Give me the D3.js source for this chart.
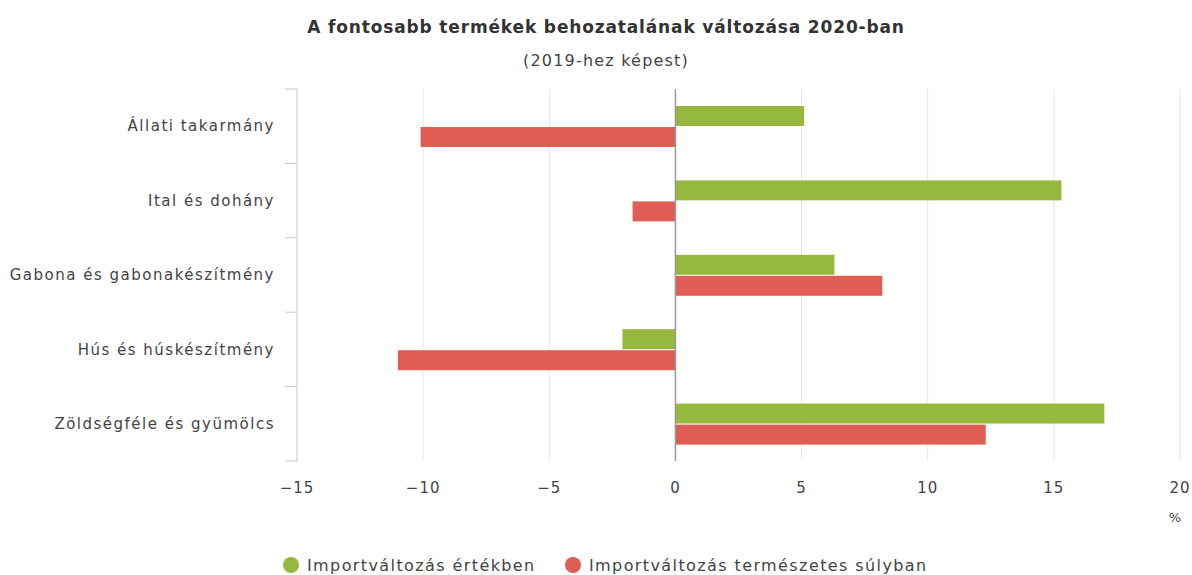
<!DOCTYPE html>
<meta charset="utf-8">
<html>
<head>
    <title>Behozatal változása 2020</title>
</head>
<style>
    *{ margin:0; padding:0;}
    body{ background:#fff;}
    svg text{ font-family:'DejaVu Sans', sans-serif;}
</style>
<script src="https://cdn.jsdelivr.net/npm/d3@7"></script>
<body>
<div id="chartContainer"></div>
<script type="text/javascript">

    var categories = ["Állati takarmány", "Ital és dohány", "Gabona és gabonakészítmény", "Hús és húskészítmény", "Zöldségféle és gyümölcs"];
    var seriesNames = ["Importváltozás értékben", "Importváltozás természetes súlyban"];
    var valueChange = [5.1, 15.3, 6.3, -2.1, 17.0];
    var weightChange = [-10.1, -1.7, 8.2, -11.0, 12.3];
    var xTicks = [-15, -10, -5, 0, 5, 10, 15, 20];
    var colors = ["#96b83e", "#e05d53"];

    var W = 1192, H = 575;
    var m = { left: 297, right: 1180, top: 89, bottom: 461 };

    var svg = d3.select("#chartContainer").append("svg")
        .attr("width", W).attr("height", H);

    var x = d3.scaleLinear().domain([-15, 20]).range([m.left, m.right]);
    var y = d3.scaleBand().domain(categories).range([m.top, m.bottom]);
    var inner = d3.scaleBand().domain(seriesNames).range([17, 58]).paddingInner(0.05);

    // grid
    svg.append("g").selectAll("line")
        .data(xTicks.filter(function (d) { return d !== -15 && d !== 0; }))
        .enter().append("line")
        .attr("x1", function (d) { return x(d); }).attr("x2", function (d) { return x(d); })
        .attr("y1", m.top).attr("y2", m.bottom)
        .attr("stroke", "#e6e6e6").attr("stroke-width", 1);

    // bars
    var rows = categories.map(function (c, i) {
        return { cat: c, vals: [valueChange[i], weightChange[i]] };
    });
    var grp = svg.append("g").selectAll("g").data(rows).enter().append("g")
        .attr("transform", function (d) { return "translate(0," + y(d.cat) + ")"; });
    grp.selectAll("rect").data(function (d) {
        return d.vals.map(function (v, j) { return { name: seriesNames[j], v: v, j: j }; });
    }).enter().append("rect")
        .attr("x", function (d) { return x(Math.min(0, d.v)); })
        .attr("width", function (d) { return Math.abs(x(d.v) - x(0)); })
        .attr("y", function (d) { return inner(d.name); })
        .attr("height", inner.bandwidth())
        .attr("fill", function (d) { return colors[d.j]; });

    // zero line
    svg.append("line")
        .attr("x1", x(0)).attr("x2", x(0)).attr("y1", m.top).attr("y2", m.bottom)
        .attr("stroke", "#999").attr("stroke-width", 1.5);

    // y axis
    var yAxis = svg.append("g").attr("transform", "translate(" + m.left + ",0)");
    yAxis.append("line").attr("x1", 0).attr("x2", 0).attr("y1", m.top).attr("y2", m.bottom)
        .attr("stroke", "#c8c8c8");
    yAxis.selectAll(".tk").data(d3.range(categories.length + 1)).enter().append("line")
        .attr("x1", -12).attr("x2", 0)
        .attr("y1", function (i) { return m.top + i * y.step(); })
        .attr("y2", function (i) { return m.top + i * y.step(); })
        .attr("stroke", "#c8c8c8");
    yAxis.selectAll("text").data(categories).enter().append("text")
        .attr("x", -22)
        .attr("y", function (d) { return y(d) + y.bandwidth() / 2; })
        .attr("dy", "0.35em")
        .attr("text-anchor", "end")
        .attr("font-size", 15).attr("letter-spacing", 1.5).attr("fill", "#444")
        .text(function (d) { return d; });

    // x tick labels
    svg.append("g").selectAll("text").data(xTicks).enter().append("text")
        .attr("x", function (d) { return x(d); })
        .attr("y", 488).attr("dy", "0.35em")
        .attr("text-anchor", "middle")
        .attr("font-size", 15).attr("letter-spacing", 1).attr("fill", "#444")
        .text(function (d) { return d < 0 ? "\u2212" + Math.abs(d) : d; });
    svg.append("text").attr("x", 1175).attr("y", 517).attr("dy", "0.35em")
        .attr("text-anchor", "middle").attr("font-size", 13).attr("fill", "#444").text("%");

    // titles
    svg.append("text").attr("x", 606).attr("y", 27).attr("dy", "0.35em")
        .attr("text-anchor", "middle").attr("font-size", 17).attr("font-weight", "bold")
        .attr("letter-spacing", 0.85)
        .attr("fill", "#333").text("A fontosabb termékek behozatalának változása 2020-ban");
    svg.append("text").attr("x", 606).attr("y", 60).attr("dy", "0.35em")
        .attr("text-anchor", "middle").attr("font-size", 16).attr("letter-spacing", 1.2)
        .attr("fill", "#444").text("(2019-hez képest)");

    // legend
    var legX = [291, 573];
    var leg = svg.append("g").selectAll("g").data(seriesNames).enter().append("g")
        .attr("transform", function (d, i) { return "translate(" + legX[i] + ",565)"; });
    leg.append("circle").attr("r", 8).attr("fill", function (d, i) { return colors[i]; });
    leg.append("text").attr("x", 16).attr("dy", "0.35em")
        .attr("font-size", 16).attr("letter-spacing", 1.4).attr("fill", "#444")
        .text(function (d) { return d; });
</script>
</body>
</html>
